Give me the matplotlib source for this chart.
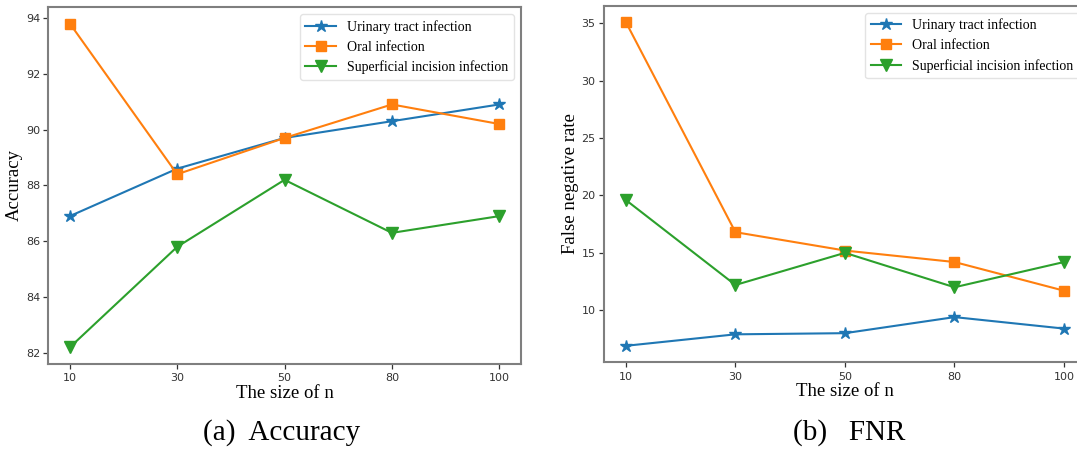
import matplotlib
matplotlib.use("Agg")
import matplotlib.pyplot as plt

sizes = ["10", "30", "50", "80", "100"]
series_names = ["Urinary tract infection", "Oral infection", "Superficial incision infection"]

acc_urinary = [86.9, 88.6, 89.7, 90.3, 90.9]
acc_oral = [93.8, 88.4, 89.7, 90.9, 90.2]
acc_superficial = [82.2, 85.8, 88.2, 86.3, 86.9]

fnr_urinary = [6.9, 7.9, 8.0, 9.4, 8.4]
fnr_oral = [35.1, 16.8, 15.2, 14.2, 11.7]
fnr_superficial = [19.6, 12.2, 15.0, 12.0, 14.2]

colors = ["#1f77b4", "#ff7f0e", "#2ca02c"]
markers = ["*", "s", "v"]
msizes = [9, 7, 9]

serif = "Liberation Serif"
spine_color = "#7f7f7f"
tick_color = "#333333"

fig = plt.figure(figsize=(10.77, 4.49), dpi=100)
ax1 = fig.add_axes([0.0449, 0.1904, 0.4386, 0.7933])
ax2 = fig.add_axes([0.5608, 0.1938, 0.4475, 0.7929])


def draw(ax, data, ylabel, ysize):
    for vals, name, c, m, ms in zip(data, series_names, colors, markers, msizes):
        ax.plot(sizes, vals, color=c, marker=m, markersize=ms, linewidth=1.5, label=name)
    for s in ax.spines.values():
        s.set_color(spine_color)
        s.set_linewidth(1.5)
    ax.tick_params(axis="both", labelsize=8, colors=tick_color, length=3.5, width=0.9)
    ax.tick_params(axis="y", pad=2.5)
    for lab in ax.get_xticklabels() + ax.get_yticklabels():
        lab.set_color(tick_color)
    ax.set_xlabel("The size of n", fontfamily=serif, fontsize=13.5, labelpad=1)
    ax.set_ylabel(ylabel, fontfamily=serif, fontsize=ysize, labelpad=2)
    leg = ax.legend(loc="upper right", prop={"family": serif, "size": 10},
                    handlelength=2.2, borderaxespad=0.5, framealpha=0.8)
    leg.get_frame().set_edgecolor("#dddddd")


draw(ax1, [acc_urinary, acc_oral, acc_superficial], "Accuracy", 13.5)
draw(ax2, [fnr_urinary, fnr_oral, fnr_superficial], "False negative rate", 13.5)
ax1.set_yticks([82, 84, 86, 88, 90, 92, 94])
ax2.set_yticks([10, 15, 20, 25, 30, 35])

fig.text(282 / 1077, 1 - 433 / 449, "(a)  Accuracy", fontfamily=serif, fontsize=21,
         ha="center", va="center")
fig.text(849 / 1077, 1 - 433 / 449, "(b)   FNR", fontfamily=serif, fontsize=21,
         ha="center", va="center")

fig.savefig("out.png", dpi=100)
